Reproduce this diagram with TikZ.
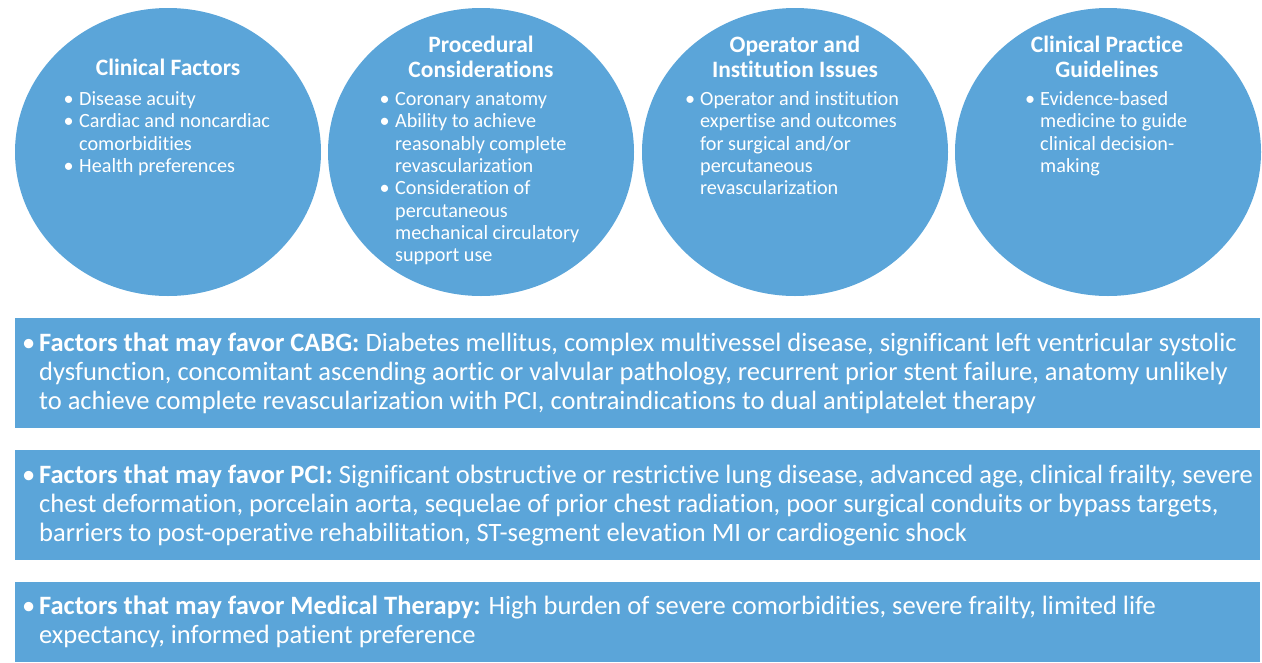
\documentclass[tikz,border=0pt]{standalone}
\usepackage{fontspec}
\setmainfont{Carlito}[Ligatures=NoCommon]
\usetikzlibrary{shapes}
\definecolor{jaccblue}{HTML}{5BA5D9}
\newcommand{\bl}[1][21pt]{\makebox[#1][c]{•}}

\begin{document}
\begin{tikzpicture}[x=1pt,y=-1pt,
  factor/.style={ellipse,fill=jaccblue,minimum width=306pt,minimum height=288pt,inner sep=0pt},
  factortitle/.style={text=white,anchor=base,inner sep=0pt,font=\bfseries\fontsize{23.5}{25}\selectfont},
  factorlist/.style={text=white,anchor=base west,inner sep=0pt,font=\fontsize{20.2}{22.3}\selectfont},
  favorbox/.style={rectangle,fill=jaccblue,anchor=north west,minimum width=1245pt,minimum height=110pt,inner sep=0pt},
  favortext/.style={text=white,anchor=base west,inner sep=0pt,font=\fontsize{26.5}{29}\selectfont}]
\useasboundingbox (0,0) rectangle (1262,662);

\node[factor] (c0) at (168,152) {};
\node[factor] (c1) at (481,152) {};
\node[factor] (c2) at (795,152) {};
\node[factor] (c3) at (1108,152) {};

\node[factortitle] (t0) at (168,75) {\begin{tabular}[t]{@{}c@{}}Clinical Factors\end{tabular}};
\node[factortitle] (t1) at (481,52) {\begin{tabular}[t]{@{}c@{}}Procedural\\ Considerations\end{tabular}};
\node[factortitle] (t2) at (795,52) {\begin{tabular}[t]{@{}c@{}}Operator and\\ Institution Issues\end{tabular}};
\node[factortitle] (t3) at (1107,52) {\begin{tabular}[t]{@{}c@{}}Clinical Practice\\ Guidelines\end{tabular}};

\node[factorlist] (l0) at (58,105.5) {\begin{tabular}[t]{@{}l@{}l@{}}
\bl & Disease acuity\\
\bl & Cardiac and noncardiac\\
 & comorbidities\\
\bl & Health preferences
\end{tabular}};
\node[factorlist] (l1) at (374,105.5) {\begin{tabular}[t]{@{}l@{}l@{}}
\bl & Coronary anatomy\\
\bl & Ability to achieve\\
 & reasonably complete\\
 & revascularization\\
\bl & Consideration of\\
 & percutaneous\\
 & mechanical circulatory\\
 & support use
\end{tabular}};
\node[factorlist] (l2) at (680,105.5) {\begin{tabular}[t]{@{}l@{}l@{}}
\bl[20pt] & Operator and institution\\
 & expertise and outcomes\\
 & for surgical and/or\\
 & percutaneous\\
 & revascularization
\end{tabular}};
\node[factorlist] (l3) at (1020,105.5) {\begin{tabular}[t]{@{}l@{}l@{}}
\bl[20pt] & Evidence-based\\
 & medicine to guide\\
 & clinical decision-\\
 & making
\end{tabular}};

\node[favorbox] (b0) at (15,318) {};
\node[favorbox] (b1) at (15,450) {};
\node[favorbox,minimum height=80pt] (b2) at (15,582) {};

\node[favortext] (f0) at (18,351) {\begin{tabular}[t]{@{}l@{}l@{}}
\bl & \textbf{Factors that may favor CABG:} Diabetes mellitus, complex multivessel disease, significant left ventricular systolic\\
 & dysfunction, concomitant ascending aortic or valvular pathology, recurrent prior stent failure, anatomy unlikely\\
 & to achieve complete revascularization with PCI, contraindications to dual antiplatelet therapy
\end{tabular}};
\node[favortext] (f1) at (18,483) {\begin{tabular}[t]{@{}l@{}l@{}}
\bl & \textbf{Factors that may favor PCI:} Significant obstructive or restrictive lung disease, advanced age, clinical frailty, severe\\
 & chest deformation, porcelain aorta, sequelae of prior chest radiation, poor surgical conduits or bypass targets,\\
 & barriers to post-operative rehabilitation, ST-segment elevation MI or cardiogenic shock
\end{tabular}};
\node[favortext] (f2) at (18,614) {\begin{tabular}[t]{@{}l@{}l@{}}
\bl & \textbf{Factors that may favor Medical Therapy:} High burden of severe comorbidities, severe frailty, limited life\\
 & expectancy, informed patient preference
\end{tabular}};
\end{tikzpicture}
\end{document}
